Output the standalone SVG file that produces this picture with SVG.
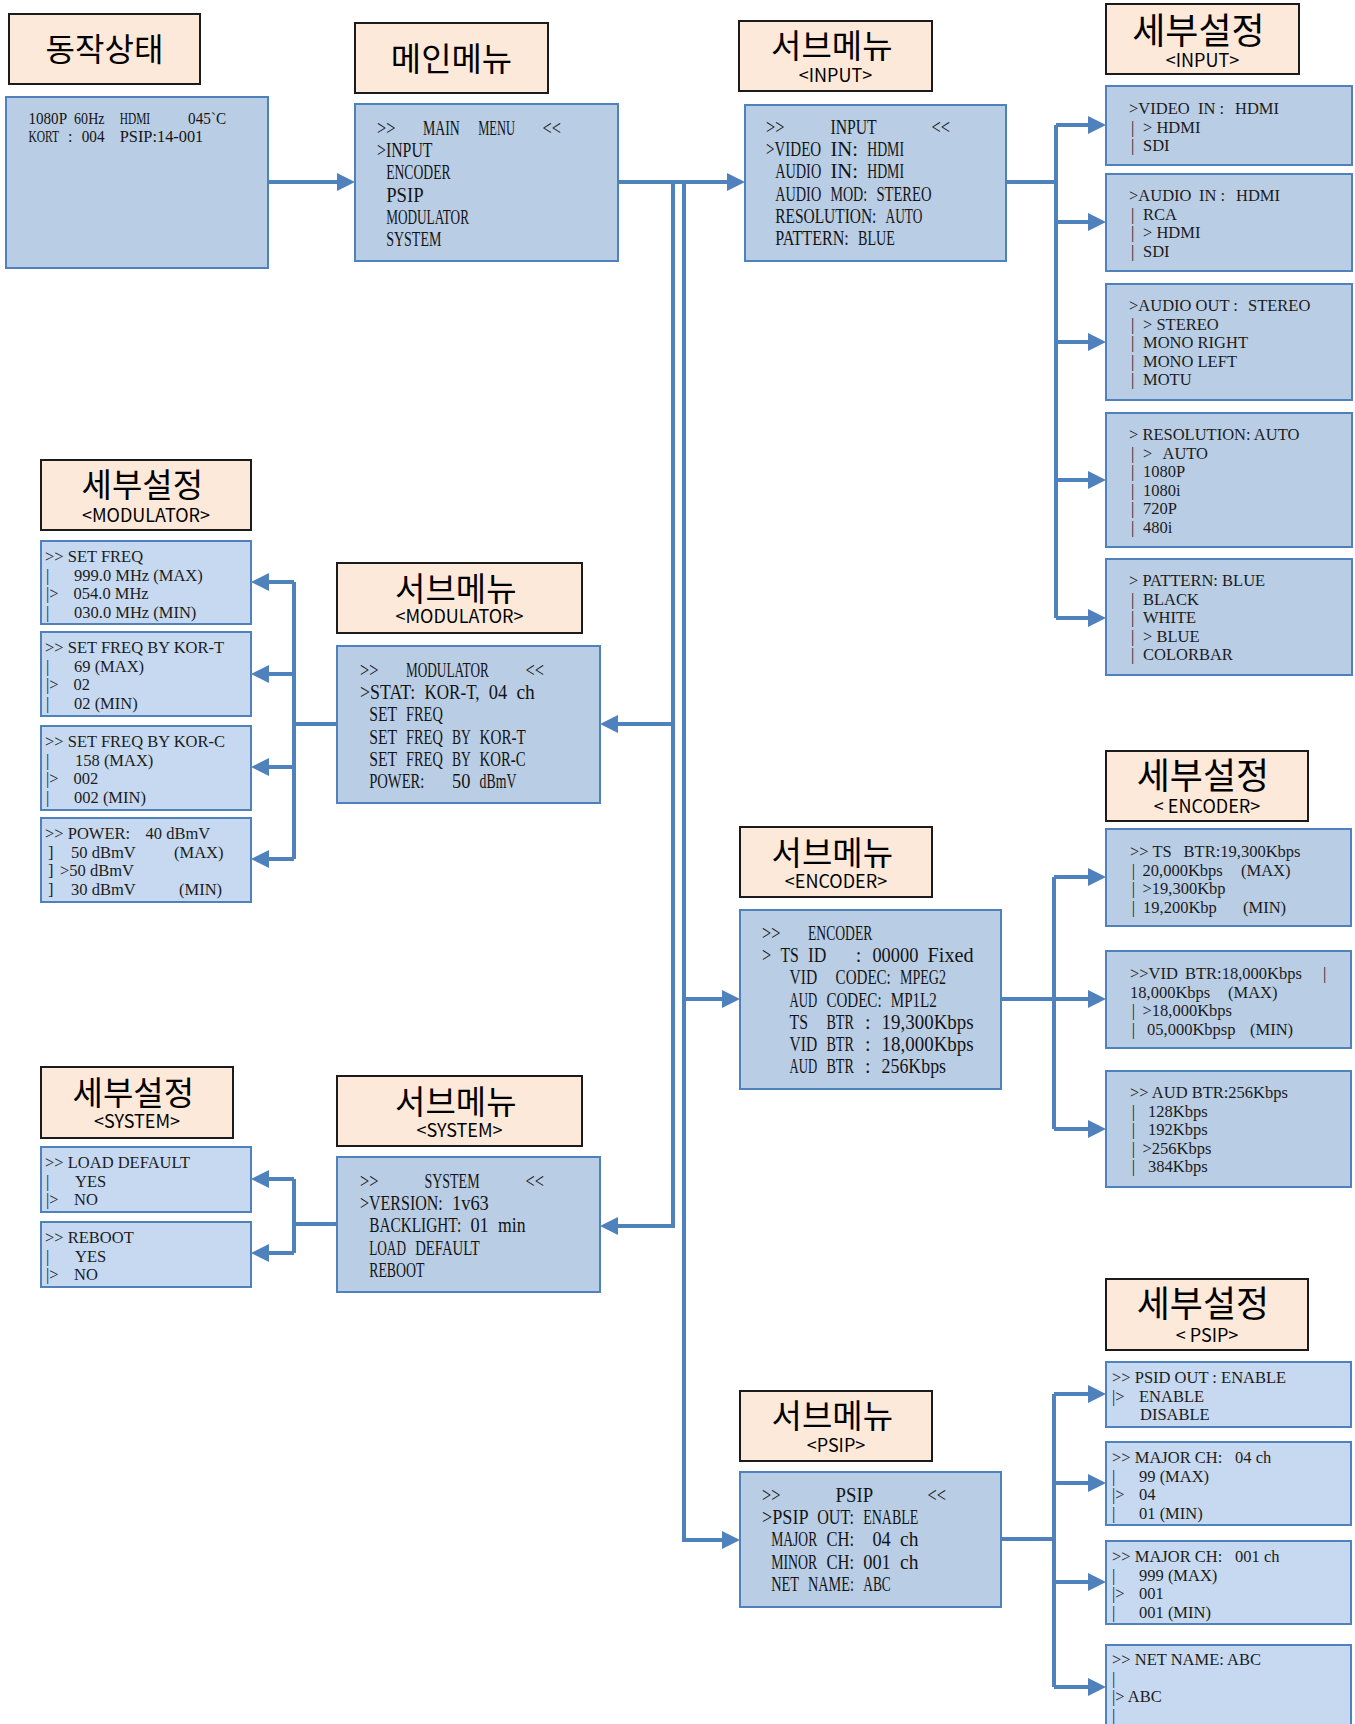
<svg xmlns="http://www.w3.org/2000/svg" width="1355" height="1724" viewBox="0 0 1355 1724">
<defs>
<marker id="ah" viewBox="0 0 18 18" refX="0" refY="9" markerWidth="18" markerHeight="18" markerUnits="userSpaceOnUse" orient="auto"><path d="M0,0 L18,9 L0,18 z" fill="#4F81BD"/></marker>
</defs>
<style>
.hd{fill:#FDE9D9;stroke:#1b1b1b;stroke-width:2}
.bx{fill:#B9CDE5;stroke:#4F81BD;stroke-width:2}
.lt{fill:#C6D9F1;stroke:#4F81BD;stroke-width:2}
.k{font-family:"Noto Sans CJK KR","Noto Sans",sans-serif;fill:#000;text-anchor:middle}
.m{font-family:"Liberation Serif","DejaVu Serif",serif;font-size:20px;fill:#141414}
.m2{font-family:"Liberation Serif","DejaVu Serif",serif;font-size:16px;fill:#141414}
.s{font-family:"Liberation Serif","DejaVu Serif",serif;font-size:16.5px;fill:#1c1c1c}
.cn{fill:none;stroke:#4F81BD;stroke-width:4}
</style>
<rect width="1355" height="1724" fill="#fff"/>

<g id="connectors" class="cn">
<path d="M268,182 H337" marker-end="url(#ah)"/>
<path d="M618,182 H727" marker-end="url(#ah)"/>
<path d="M673,182 V1226 H618" marker-end="url(#ah)"/>
<path d="M673,724 H618" marker-end="url(#ah)"/>
<path d="M684,182 V1540 H722" marker-end="url(#ah)"/>
<path d="M684,999 H722" marker-end="url(#ah)"/>
<path d="M1006,182 H1056"/>
<path d="M1056,125 V618"/>
<path d="M1056,125 H1088" marker-end="url(#ah)"/>
<path d="M1056,222 H1088" marker-end="url(#ah)"/>
<path d="M1056,342 H1088" marker-end="url(#ah)"/>
<path d="M1056,480 H1088" marker-end="url(#ah)"/>
<path d="M1056,618 H1088" marker-end="url(#ah)"/>
<path d="M337,724 H294"/>
<path d="M294,582 V859"/>
<path d="M294,582 H269" marker-end="url(#ah)"/>
<path d="M294,674 H269" marker-end="url(#ah)"/>
<path d="M294,767 H269" marker-end="url(#ah)"/>
<path d="M294,859 H269" marker-end="url(#ah)"/>
<path d="M337,1224 H294"/>
<path d="M294,1179 V1253"/>
<path d="M294,1179 H269" marker-end="url(#ah)"/>
<path d="M294,1253 H269" marker-end="url(#ah)"/>
<path d="M1001,999 H1054"/>
<path d="M1054,877 V1129"/>
<path d="M1054,877 H1088" marker-end="url(#ah)"/>
<path d="M1054,999 H1088" marker-end="url(#ah)"/>
<path d="M1054,1129 H1088" marker-end="url(#ah)"/>
<path d="M1001,1539 H1054"/>
<path d="M1054,1394 V1687"/>
<path d="M1054,1394 H1088" marker-end="url(#ah)"/>
<path d="M1054,1483 H1088" marker-end="url(#ah)"/>
<path d="M1054,1582 H1088" marker-end="url(#ah)"/>
<path d="M1054,1687 H1088" marker-end="url(#ah)"/>
</g>

<g id="hdr-status"><rect class="hd" x="9" y="14" width="191" height="70"/><text class="k" x="104.5" y="61" font-size="32">동작상태</text></g>
<g id="hdr-main"><rect class="hd" x="355" y="23" width="193" height="70"/><text class="k" x="451.5" y="71" font-size="33">메인메뉴</text></g>
<g id="hdr-sub-input"><rect class="hd" x="739" y="21" width="193" height="70"/><text class="k" x="835.5" y="58" font-size="33">서브메뉴 <tspan x="835.5" y="82" font-size="18">&lt;INPUT&gt;</tspan></text></g>
<g id="hdr-det-input"><rect class="hd" x="1106" y="4" width="193" height="70"/><text class="k" x="1202.5" y="44" font-size="36">세부설정 <tspan x="1202.5" y="67" font-size="18">&lt;INPUT&gt;</tspan></text></g>
<g id="hdr-det-mod"><rect class="hd" x="41" y="460" width="210" height="70"/><text class="k" x="146" y="497" font-size="33">세부설정 <tspan x="146" y="522" font-size="18">&lt;MODULATOR&gt;</tspan></text></g>
<g id="hdr-sub-mod"><rect class="hd" x="337" y="563" width="245" height="70"/><text class="k" x="459.5" y="601" font-size="33">서브메뉴 <tspan x="459.5" y="623" font-size="18">&lt;MODULATOR&gt;</tspan></text></g>
<g id="hdr-sub-enc"><rect class="hd" x="740" y="827" width="192" height="70"/><text class="k" x="836" y="865" font-size="33">서브메뉴 <tspan x="836" y="888" font-size="18">&lt;ENCODER&gt;</tspan></text></g>
<g id="hdr-det-enc"><rect class="hd" x="1106" y="751" width="202" height="70"/><text class="k" x="1207" y="789" font-size="36">세부설정 <tspan x="1207" y="813" font-size="18">&lt; ENCODER&gt;</tspan></text></g>
<g id="hdr-det-sys"><rect class="hd" x="41" y="1067" width="192" height="71"/><text class="k" x="137" y="1105" font-size="33">세부설정 <tspan x="137" y="1128" font-size="18">&lt;SYSTEM&gt;</tspan></text></g>
<g id="hdr-sub-sys"><rect class="hd" x="337" y="1076" width="245" height="70"/><text class="k" x="459.5" y="1114" font-size="33">서브메뉴 <tspan x="459.5" y="1137" font-size="18">&lt;SYSTEM&gt;</tspan></text></g>
<g id="hdr-sub-psip"><rect class="hd" x="740" y="1391" width="192" height="70"/><text class="k" x="836" y="1428" font-size="33">서브메뉴 <tspan x="836" y="1452" font-size="18">&lt;PSIP&gt;</tspan></text></g>
<g id="hdr-det-psip"><rect class="hd" x="1106" y="1279" width="202" height="71"/><text class="k" x="1207" y="1317" font-size="36">세부설정 <tspan x="1207" y="1342" font-size="18">&lt; PSIP&gt;</tspan></text></g>

<g id="status">
<rect class="bx" x="6" y="97" width="262" height="171"/>
<text class="m2"><tspan x="28.5" y="124" textLength="38" lengthAdjust="spacingAndGlyphs">1080P</tspan> <tspan x="74.1" textLength="30.4" lengthAdjust="spacingAndGlyphs">60Hz</tspan> <tspan x="119.7" textLength="30.4" lengthAdjust="spacingAndGlyphs">HDMI</tspan> <tspan x="188.1" textLength="38" lengthAdjust="spacingAndGlyphs">045`C</tspan> <tspan x="28.5" y="142" textLength="30.4" lengthAdjust="spacingAndGlyphs">KORT</tspan> <tspan x="68.1">:</tspan> <tspan x="81.7" textLength="22.8" lengthAdjust="spacingAndGlyphs">004</tspan> <tspan x="119.7" textLength="83.6" lengthAdjust="spacingAndGlyphs">PSIP:14-001</tspan></text>
</g>

<g id="main-menu">
<rect class="bx" x="355" y="104" width="263" height="157"/>
<text class="m"><tspan x="377" y="135" textLength="18.4" lengthAdjust="spacingAndGlyphs">&gt;&gt;</tspan> <tspan x="423" textLength="36.8" lengthAdjust="spacingAndGlyphs">MAIN</tspan> <tspan x="478.2" textLength="36.8" lengthAdjust="spacingAndGlyphs">MENU</tspan> <tspan x="542.6" textLength="18.4" lengthAdjust="spacingAndGlyphs">&lt;&lt;</tspan> <tspan x="377" y="157.2" textLength="55.2" lengthAdjust="spacingAndGlyphs">&gt;INPUT</tspan> <tspan x="386.2" y="179.4" textLength="64.4" lengthAdjust="spacingAndGlyphs">ENCODER</tspan> <tspan x="386.2" y="201.6" textLength="36.8" lengthAdjust="spacingAndGlyphs">PSIP</tspan> <tspan x="386.2" y="223.8" textLength="82.8" lengthAdjust="spacingAndGlyphs">MODULATOR</tspan> <tspan x="386.2" y="246" textLength="55.2" lengthAdjust="spacingAndGlyphs">SYSTEM</tspan></text>
</g>

<g id="sub-input">
<rect class="bx" x="745" y="105" width="261" height="156"/>
<text class="m"><tspan x="766" y="134" textLength="18.4" lengthAdjust="spacingAndGlyphs">&gt;&gt;</tspan> <tspan x="830.4" textLength="46" lengthAdjust="spacingAndGlyphs">INPUT</tspan> <tspan x="931.6" textLength="18.4" lengthAdjust="spacingAndGlyphs">&lt;&lt;</tspan> <tspan x="766" y="156.2" textLength="55.2" lengthAdjust="spacingAndGlyphs">&gt;VIDEO</tspan> <tspan x="830.4" textLength="27.6" lengthAdjust="spacingAndGlyphs">IN:</tspan> <tspan x="867.2" textLength="36.8" lengthAdjust="spacingAndGlyphs">HDMI</tspan> <tspan x="775.2" y="178.4" textLength="46" lengthAdjust="spacingAndGlyphs">AUDIO</tspan> <tspan x="830.4" textLength="27.6" lengthAdjust="spacingAndGlyphs">IN:</tspan> <tspan x="867.2" textLength="36.8" lengthAdjust="spacingAndGlyphs">HDMI</tspan> <tspan x="775.2" y="200.6" textLength="46" lengthAdjust="spacingAndGlyphs">AUDIO</tspan> <tspan x="830.4" textLength="36.8" lengthAdjust="spacingAndGlyphs">MOD:</tspan> <tspan x="876.4" textLength="55.2" lengthAdjust="spacingAndGlyphs">STEREO</tspan> <tspan x="775.2" y="222.8" textLength="101.2" lengthAdjust="spacingAndGlyphs">RESOLUTION:</tspan> <tspan x="885.6" textLength="36.8" lengthAdjust="spacingAndGlyphs">AUTO</tspan> <tspan x="775.2" y="245" textLength="73.6" lengthAdjust="spacingAndGlyphs">PATTERN:</tspan> <tspan x="858" textLength="36.8" lengthAdjust="spacingAndGlyphs">BLUE</tspan></text>
</g>

<g id="det-video-in"><rect class="bx" x="1106" y="86" width="246" height="79"/>
<text class="s"><tspan x="1129" y="114">&gt;VIDEO</tspan> <tspan x="1198">IN :</tspan> <tspan x="1235">HDMI</tspan> <tspan x="1131" y="132.5">|</tspan> <tspan x="1143">&gt; HDMI</tspan> <tspan x="1131" y="151">|</tspan> <tspan x="1143">SDI</tspan></text></g>
<g id="det-audio-in"><rect class="bx" x="1106" y="174" width="246" height="97"/>
<text class="s"><tspan x="1129" y="201">&gt;AUDIO</tspan> <tspan x="1199">IN :</tspan> <tspan x="1236">HDMI</tspan> <tspan x="1131" y="219.5">|</tspan> <tspan x="1143">RCA</tspan> <tspan x="1131" y="238">|</tspan> <tspan x="1143">&gt; HDMI</tspan> <tspan x="1131" y="256.5">|</tspan> <tspan x="1143">SDI</tspan></text></g>
<g id="det-audio-out"><rect class="bx" x="1106" y="284" width="246" height="116"/>
<text class="s"><tspan x="1129" y="311">&gt;AUDIO OUT :</tspan> <tspan x="1248">STEREO</tspan> <tspan x="1131" y="329.5">|</tspan> <tspan x="1143">&gt; STEREO</tspan> <tspan x="1131" y="348">|</tspan> <tspan x="1143">MONO RIGHT</tspan> <tspan x="1131" y="366.5">|</tspan> <tspan x="1143">MONO LEFT</tspan> <tspan x="1131" y="385">|</tspan> <tspan x="1143">MOTU</tspan></text></g>
<g id="det-resolution"><rect class="bx" x="1106" y="413" width="246" height="134"/>
<text class="s"><tspan x="1129" y="440">&gt; RESOLUTION: AUTO</tspan> <tspan x="1131" y="458.5">|</tspan> <tspan x="1143">&gt;</tspan> <tspan x="1162.5">AUTO</tspan> <tspan x="1131" y="477">|</tspan> <tspan x="1143">1080P</tspan> <tspan x="1131" y="495.5">|</tspan> <tspan x="1143">1080i</tspan> <tspan x="1131" y="514">|</tspan> <tspan x="1143">720P</tspan> <tspan x="1131" y="532.5">|</tspan> <tspan x="1143">480i</tspan></text></g>
<g id="det-pattern"><rect class="bx" x="1106" y="559" width="246" height="116"/>
<text class="s"><tspan x="1129" y="586">&gt; PATTERN: BLUE</tspan> <tspan x="1131" y="604.5">|</tspan> <tspan x="1143">BLACK</tspan> <tspan x="1131" y="623">|</tspan> <tspan x="1143">WHITE</tspan> <tspan x="1131" y="641.5">|</tspan> <tspan x="1143">&gt; BLUE</tspan> <tspan x="1131" y="660">|</tspan> <tspan x="1143">COLORBAR</tspan></text></g>

<g id="sub-modulator">
<rect class="bx" x="337" y="646" width="263" height="157"/>
<text class="m"><tspan x="360" y="677" textLength="18.4" lengthAdjust="spacingAndGlyphs">&gt;&gt;</tspan> <tspan x="406" textLength="82.8" lengthAdjust="spacingAndGlyphs">MODULATOR</tspan> <tspan x="525.6" textLength="18.4" lengthAdjust="spacingAndGlyphs">&lt;&lt;</tspan> <tspan x="360" y="699.2" textLength="55.2" lengthAdjust="spacingAndGlyphs">&gt;STAT:</tspan> <tspan x="424.4" textLength="55.2" lengthAdjust="spacingAndGlyphs">KOR-T,</tspan> <tspan x="488.8" textLength="18.4" lengthAdjust="spacingAndGlyphs">04</tspan> <tspan x="516.4" textLength="18.4" lengthAdjust="spacingAndGlyphs">ch</tspan> <tspan x="369.2" y="721.4" textLength="27.6" lengthAdjust="spacingAndGlyphs">SET</tspan> <tspan x="406" textLength="36.8" lengthAdjust="spacingAndGlyphs">FREQ</tspan> <tspan x="369.2" y="743.6" textLength="27.6" lengthAdjust="spacingAndGlyphs">SET</tspan> <tspan x="406" textLength="36.8" lengthAdjust="spacingAndGlyphs">FREQ</tspan> <tspan x="452" textLength="18.4" lengthAdjust="spacingAndGlyphs">BY</tspan> <tspan x="479.6" textLength="46" lengthAdjust="spacingAndGlyphs">KOR-T</tspan> <tspan x="369.2" y="765.8" textLength="27.6" lengthAdjust="spacingAndGlyphs">SET</tspan> <tspan x="406" textLength="36.8" lengthAdjust="spacingAndGlyphs">FREQ</tspan> <tspan x="452" textLength="18.4" lengthAdjust="spacingAndGlyphs">BY</tspan> <tspan x="479.6" textLength="46" lengthAdjust="spacingAndGlyphs">KOR-C</tspan> <tspan x="369.2" y="788" textLength="55.2" lengthAdjust="spacingAndGlyphs">POWER:</tspan> <tspan x="452" textLength="18.4" lengthAdjust="spacingAndGlyphs">50</tspan> <tspan x="479.6" textLength="36.8" lengthAdjust="spacingAndGlyphs">dBmV</tspan></text>
</g>

<g id="det-set-freq"><rect class="lt" x="41" y="541" width="210" height="83"/>
<text class="s"><tspan x="45" y="562">&gt;&gt; SET FREQ</tspan> <tspan x="46" y="580.5">|</tspan> <tspan x="74">999.0 MHz (MAX)</tspan> <tspan x="46" y="599">|&gt;</tspan> <tspan x="73.5">054.0 MHz</tspan> <tspan x="46" y="617.5">|</tspan> <tspan x="74">030.0 MHz (MIN)</tspan></text></g>
<g id="det-kor-t"><rect class="lt" x="41" y="632" width="210" height="84"/>
<text class="s"><tspan x="45" y="653">&gt;&gt; SET FREQ BY KOR-T</tspan> <tspan x="46" y="671.5">|</tspan> <tspan x="74">69 (MAX)</tspan> <tspan x="46" y="690">|&gt;</tspan> <tspan x="73.5">02</tspan> <tspan x="46" y="708.5">|</tspan> <tspan x="74">02 (MIN)</tspan></text></g>
<g id="det-kor-c"><rect class="lt" x="41" y="726" width="210" height="84"/>
<text class="s"><tspan x="45" y="747">&gt;&gt; SET FREQ BY KOR-C</tspan> <tspan x="46" y="765.5">|</tspan> <tspan x="75">158 (MAX)</tspan> <tspan x="46" y="784">|&gt;</tspan> <tspan x="73.5">002</tspan> <tspan x="46" y="802.5">|</tspan> <tspan x="74">002 (MIN)</tspan></text></g>
<g id="det-power"><rect class="lt" x="41" y="818" width="210" height="84"/>
<text class="s"><tspan x="45" y="839">&gt;&gt; POWER:</tspan> <tspan x="145.5">40 dBmV</tspan> <tspan x="48" y="857.5">]</tspan> <tspan x="71">50 dBmV</tspan> <tspan x="174">(MAX)</tspan> <tspan x="48" y="876">]</tspan><tspan x="60">&gt;50 dBmV</tspan> <tspan x="48" y="894.5">]</tspan> <tspan x="71">30 dBmV</tspan> <tspan x="179">(MIN)</tspan></text></g>

<g id="sub-system">
<rect class="bx" x="337" y="1157" width="263" height="135"/>
<text class="m"><tspan x="360" y="1188" textLength="18.4" lengthAdjust="spacingAndGlyphs">&gt;&gt;</tspan> <tspan x="424.4" textLength="55.2" lengthAdjust="spacingAndGlyphs">SYSTEM</tspan> <tspan x="525.6" textLength="18.4" lengthAdjust="spacingAndGlyphs">&lt;&lt;</tspan> <tspan x="360" y="1210.2" textLength="82.8" lengthAdjust="spacingAndGlyphs">&gt;VERSION:</tspan> <tspan x="452" textLength="36.8" lengthAdjust="spacingAndGlyphs">1v63</tspan> <tspan x="369.2" y="1232.4" textLength="92" lengthAdjust="spacingAndGlyphs">BACKLIGHT:</tspan> <tspan x="470.4" textLength="18.4" lengthAdjust="spacingAndGlyphs">01</tspan> <tspan x="498" textLength="27.6" lengthAdjust="spacingAndGlyphs">min</tspan> <tspan x="369.2" y="1254.6" textLength="36.8" lengthAdjust="spacingAndGlyphs">LOAD</tspan> <tspan x="415.2" textLength="64.4" lengthAdjust="spacingAndGlyphs">DEFAULT</tspan> <tspan x="369.2" y="1276.8" textLength="55.2" lengthAdjust="spacingAndGlyphs">REBOOT</tspan></text>
</g>

<g id="det-load-default"><rect class="lt" x="41" y="1147" width="210" height="65"/>
<text class="s"><tspan x="45" y="1168">&gt;&gt; LOAD DEFAULT</tspan> <tspan x="46" y="1186.5">|</tspan> <tspan x="75">YES</tspan> <tspan x="46" y="1205">|&gt;</tspan> <tspan x="74">NO</tspan></text></g>
<g id="det-reboot"><rect class="lt" x="41" y="1222" width="210" height="65"/>
<text class="s"><tspan x="45" y="1243">&gt;&gt; REBOOT</tspan> <tspan x="46" y="1261.5">|</tspan> <tspan x="75">YES</tspan> <tspan x="46" y="1280">|&gt;</tspan> <tspan x="74">NO</tspan></text></g>

<g id="sub-encoder">
<rect class="bx" x="740" y="910" width="261" height="179"/>
<text class="m"><tspan x="762" y="940" textLength="18.4" lengthAdjust="spacingAndGlyphs">&gt;&gt;</tspan> <tspan x="808" textLength="64.4" lengthAdjust="spacingAndGlyphs">ENCODER</tspan> <tspan x="762" y="962.2" textLength="9.2" lengthAdjust="spacingAndGlyphs">&gt;</tspan> <tspan x="780.4" textLength="18.4" lengthAdjust="spacingAndGlyphs">TS</tspan> <tspan x="808" textLength="18.4" lengthAdjust="spacingAndGlyphs">ID</tspan> <tspan x="855.7">:</tspan> <tspan x="872.4" textLength="46" lengthAdjust="spacingAndGlyphs">00000</tspan> <tspan x="927.6" textLength="46" lengthAdjust="spacingAndGlyphs">Fixed</tspan> <tspan x="789.6" y="984.4" textLength="27.6" lengthAdjust="spacingAndGlyphs">VID</tspan> <tspan x="835.6" textLength="55.2" lengthAdjust="spacingAndGlyphs">CODEC:</tspan> <tspan x="900" textLength="46" lengthAdjust="spacingAndGlyphs">MPEG2</tspan> <tspan x="789.6" y="1006.6" textLength="27.6" lengthAdjust="spacingAndGlyphs">AUD</tspan> <tspan x="826.4" textLength="55.2" lengthAdjust="spacingAndGlyphs">CODEC:</tspan> <tspan x="890.8" textLength="46" lengthAdjust="spacingAndGlyphs">MP1L2</tspan> <tspan x="789.6" y="1028.8" textLength="18.4" lengthAdjust="spacingAndGlyphs">TS</tspan> <tspan x="826.4" textLength="27.6" lengthAdjust="spacingAndGlyphs">BTR</tspan> <tspan x="864.9">:</tspan> <tspan x="881.6" textLength="92" lengthAdjust="spacingAndGlyphs">19,300Kbps</tspan> <tspan x="789.6" y="1051" textLength="27.6" lengthAdjust="spacingAndGlyphs">VID</tspan> <tspan x="826.4" textLength="27.6" lengthAdjust="spacingAndGlyphs">BTR</tspan> <tspan x="864.9">:</tspan> <tspan x="881.6" textLength="92" lengthAdjust="spacingAndGlyphs">18,000Kbps</tspan> <tspan x="789.6" y="1073.2" textLength="27.6" lengthAdjust="spacingAndGlyphs">AUD</tspan> <tspan x="826.4" textLength="27.6" lengthAdjust="spacingAndGlyphs">BTR</tspan> <tspan x="864.9">:</tspan> <tspan x="881.6" textLength="64.4" lengthAdjust="spacingAndGlyphs">256Kbps</tspan></text>
</g>

<g id="det-ts-btr"><rect class="bx" x="1106" y="829" width="245" height="97"/>
<text class="s"><tspan x="1130" y="857">&gt;&gt; TS</tspan> <tspan x="1183.6">BTR:19,300Kbps</tspan> <tspan x="1131.7" y="875.5">|</tspan> <tspan x="1142.5">20,000Kbps</tspan> <tspan x="1241">(MAX)</tspan> <tspan x="1131.7" y="894">|</tspan> <tspan x="1142.5">&gt;19,300Kbp</tspan> <tspan x="1131.7" y="912.5">|</tspan> <tspan x="1143">19,200Kbp</tspan> <tspan x="1243">(MIN)</tspan></text></g>
<g id="det-vid-btr"><rect class="bx" x="1106" y="951" width="245" height="97"/>
<text class="s"><tspan x="1130" y="979">&gt;&gt;VID</tspan> <tspan x="1185">BTR:18,000Kbps</tspan> <tspan x="1323">|</tspan> <tspan x="1130" y="997.5">18,000Kbps</tspan> <tspan x="1228">(MAX)</tspan> <tspan x="1131.7" y="1016">|</tspan> <tspan x="1142.5">&gt;18,000Kbps</tspan> <tspan x="1131.7" y="1034.5">|</tspan> <tspan x="1147">05,000Kbpsp</tspan> <tspan x="1250">(MIN)</tspan></text></g>
<g id="det-aud-btr"><rect class="bx" x="1106" y="1071" width="245" height="116"/>
<text class="s"><tspan x="1130" y="1098">&gt;&gt; AUD BTR:256Kbps</tspan> <tspan x="1131.7" y="1116.5">|</tspan> <tspan x="1148">128Kbps</tspan> <tspan x="1131.7" y="1135">|</tspan> <tspan x="1148">192Kbps</tspan> <tspan x="1131.7" y="1153.5">|</tspan> <tspan x="1142.5">&gt;256Kbps</tspan> <tspan x="1131.7" y="1172">|</tspan> <tspan x="1148">384Kbps</tspan></text></g>

<g id="sub-psip">
<rect class="bx" x="740" y="1472" width="261" height="135"/>
<text class="m"><tspan x="762" y="1502" textLength="18.4" lengthAdjust="spacingAndGlyphs">&gt;&gt;</tspan> <tspan x="835.6" textLength="36.8" lengthAdjust="spacingAndGlyphs">PSIP</tspan> <tspan x="927.6" textLength="18.4" lengthAdjust="spacingAndGlyphs">&lt;&lt;</tspan> <tspan x="762" y="1524.2" textLength="46" lengthAdjust="spacingAndGlyphs">&gt;PSIP</tspan> <tspan x="817.2" textLength="36.8" lengthAdjust="spacingAndGlyphs">OUT:</tspan> <tspan x="863.2" textLength="55.2" lengthAdjust="spacingAndGlyphs">ENABLE</tspan> <tspan x="771.2" y="1546.4" textLength="46" lengthAdjust="spacingAndGlyphs">MAJOR</tspan> <tspan x="826.4" textLength="27.6" lengthAdjust="spacingAndGlyphs">CH:</tspan> <tspan x="872.4" textLength="18.4" lengthAdjust="spacingAndGlyphs">04</tspan> <tspan x="900" textLength="18.4" lengthAdjust="spacingAndGlyphs">ch</tspan> <tspan x="771.2" y="1568.6" textLength="46" lengthAdjust="spacingAndGlyphs">MINOR</tspan> <tspan x="826.4" textLength="27.6" lengthAdjust="spacingAndGlyphs">CH:</tspan> <tspan x="863.2" textLength="27.6" lengthAdjust="spacingAndGlyphs">001</tspan> <tspan x="900" textLength="18.4" lengthAdjust="spacingAndGlyphs">ch</tspan> <tspan x="771.2" y="1590.8" textLength="27.6" lengthAdjust="spacingAndGlyphs">NET</tspan> <tspan x="808" textLength="46" lengthAdjust="spacingAndGlyphs">NAME:</tspan> <tspan x="863.2" textLength="27.6" lengthAdjust="spacingAndGlyphs">ABC</tspan></text>
</g>

<g id="det-psid-out"><rect class="lt" x="1106" y="1362" width="245" height="65"/>
<text class="s"><tspan x="1112" y="1383">&gt;&gt; PSID OUT : ENABLE</tspan> <tspan x="1112" y="1401.5">|&gt;</tspan> <tspan x="1139">ENABLE</tspan> <tspan x="1140" y="1420">DISABLE</tspan></text></g>
<g id="det-major-ch"><rect class="lt" x="1106" y="1442" width="245" height="83"/>
<text class="s"><tspan x="1112" y="1463">&gt;&gt; MAJOR CH:</tspan> <tspan x="1235">04 ch</tspan> <tspan x="1112" y="1481.5">|</tspan> <tspan x="1139">99 (MAX)</tspan> <tspan x="1112" y="1500">|&gt;</tspan> <tspan x="1139">04</tspan> <tspan x="1112" y="1518.5">|</tspan> <tspan x="1139">01 (MIN)</tspan></text></g>
<g id="det-minor-ch"><rect class="lt" x="1106" y="1541" width="245" height="83"/>
<text class="s"><tspan x="1112" y="1562">&gt;&gt; MAJOR CH:</tspan> <tspan x="1235">001 ch</tspan> <tspan x="1112" y="1580.5">|</tspan> <tspan x="1139">999 (MAX)</tspan> <tspan x="1112" y="1599">|&gt;</tspan> <tspan x="1139">001</tspan> <tspan x="1112" y="1617.5">|</tspan> <tspan x="1139">001 (MIN)</tspan></text></g>
<g id="det-net-name"><rect class="lt" x="1106" y="1645" width="245" height="100"/>
<text class="s"><tspan x="1112" y="1665">&gt;&gt; NET NAME: ABC</tspan> <tspan x="1112" y="1683.5">|</tspan> <tspan x="1112" y="1702">|&gt; ABC</tspan> <tspan x="1112" y="1720.5">|</tspan></text></g>
</svg>
